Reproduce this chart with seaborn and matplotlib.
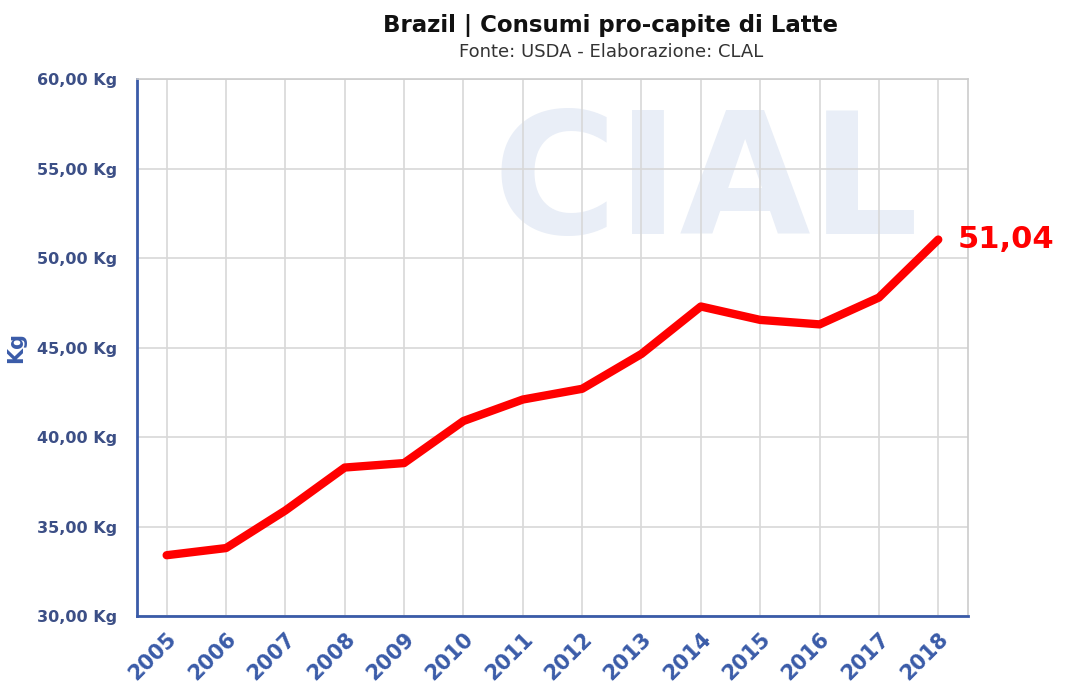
import numpy as np
import pandas as pd
import matplotlib
matplotlib.use("Agg")
import matplotlib.pyplot as plt
import seaborn as sns

anni = ["2005", "2006", "2007", "2008", "2009", "2010", "2011",
        "2012", "2013", "2014", "2015", "2016", "2017", "2018"]
consumi = [33.4, 33.8, 35.9, 38.3, 38.55, 40.9, 42.1,
           42.7, 44.65, 47.3, 46.55, 46.3, 47.8, 51.04]
y_ticks = [30, 35, 40, 45, 50, 55, 60]

df = pd.DataFrame({"Anno": anni, "Kg": consumi})

sns.set_style("white")
plt.rcParams['font.family'] = ['DejaVu Sans']

blu = "#3a5ba8"
blu_testo = "#3c4f86"

fig = plt.figure(figsize=(10.66, 6.83), dpi=100)
ax = fig.add_axes([0.1285, 0.098, 0.7795, 0.786])

# watermark CLAL, molto chiaro dietro la griglia
ax.text(0.685, 0.80, "CIAL", transform=ax.transAxes, fontsize=122,
        fontweight="bold", color="#e9eef7", ha="center", va="center",
        zorder=0)

x = np.arange(len(anni))
sns.lineplot(x=x, y=df["Kg"], ax=ax, color="#ff0000", linewidth=6,
             zorder=3)

ax.set_xlim(-0.5, len(anni) - 0.5)
ax.set_ylim(30, 60)
ax.set_xticks(x)
ax.set_xticklabels(anni, rotation=45, ha="right", rotation_mode="anchor",
                   fontsize=15, fontweight="bold", color=blu)
ax.set_yticks(y_ticks)
ax.set_yticklabels([f"{v},00 Kg" for v in y_ticks], fontsize=11.5,
                   fontweight="bold", color=blu_testo)
ax.grid(True, color="#d8d8d8", linewidth=1.2, zorder=1)
ax.set_axisbelow(True)
ax.tick_params(axis="x", length=6, color=blu, width=1.2, pad=3)
ax.tick_params(axis="y", length=0, pad=14)

for s in ["top", "right"]:
    ax.spines[s].set_color("#cccccc")
    ax.spines[s].set_linewidth(1.2)
for s in ["left", "bottom"]:
    ax.spines[s].set_color(blu)
    ax.spines[s].set_linewidth(2)

ax.set_xlabel("")
ax.set_ylabel("Kg", fontsize=15, fontweight="bold", color=blu, labelpad=8)

ax.annotate("51,04", xy=(x[-1], consumi[-1]), xytext=(14, 0),
            textcoords="offset points", fontsize=22, fontweight="bold",
            color="#ff0000", va="center", ha="left", annotation_clip=False)

fig.text(0.573, 0.962, "Brazil | Consumi pro-capite di Latte", ha="center",
         va="center", fontsize=16.5, fontweight="bold", color="#111111")
fig.text(0.573, 0.924, "Fonte: USDA - Elaborazione: CLAL", ha="center",
         va="center", fontsize=13, color="#333333")

fig.savefig("out.png", dpi=100)
